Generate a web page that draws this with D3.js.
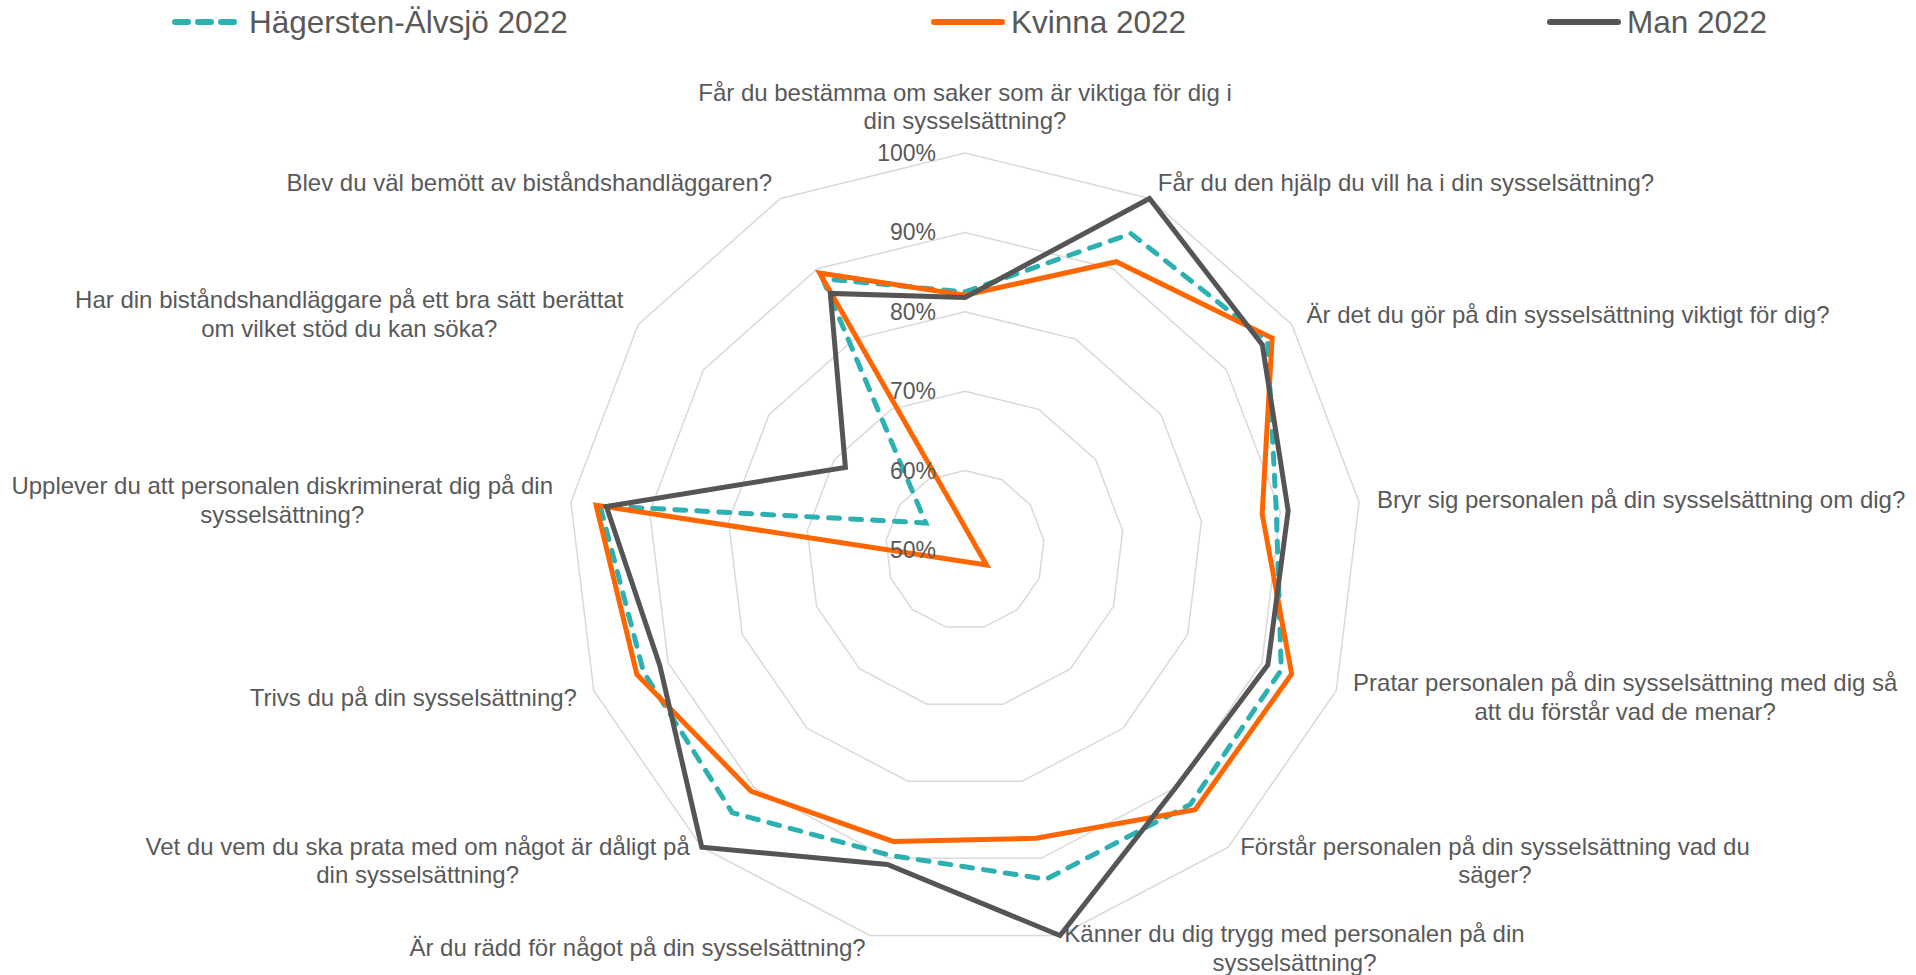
<!DOCTYPE html>
<html>
<head>
<meta charset="utf-8">
<script src="https://cdn.jsdelivr.net/npm/d3@7"></script>
<style>
  html, body { margin: 0; padding: 0; background: #ffffff; }
  svg text { font-family: "Liberation Sans", Arial, sans-serif; fill: #595959; }
</style>
</head>
<body>
<svg id="chart" width="1916" height="975"></svg>
<script>
// ---------- DATA ----------
const categories = [
  "Får du bestämma om saker som är viktiga för dig i\ndin sysselsättning?",
  "Får du den hjälp du vill ha i din sysselsättning?",
  "Är det du gör på din sysselsättning viktigt för dig?",
  "Bryr sig personalen på din sysselsättning om dig?",
  "Pratar personalen på din sysselsättning med dig så\natt du förstår vad de menar?",
  "Förstår personalen på din sysselsättning vad du\nsäger?",
  "Känner du dig trygg med personalen på din\nsysselsättning?",
  "Är du rädd för något på din sysselsättning?",
  "Vet du vem du ska prata med om något är dåligt på\ndin sysselsättning?",
  "Trivs du på din sysselsättning?",
  "Upplever du att personalen diskriminerat dig på din\nsysselsättning?",
  "Har din biståndshandläggare på ett bra sätt berättat\nom vilket stöd du kan söka?",
  "Blev du väl bemött av biståndshandläggaren?"
];
const seriesNames = ["Hägersten-Älvsjö 2022", "Kvinna 2022", "Man 2022"];
const hagerstenValues = [0.825, 0.950, 0.963, 0.895, 0.926, 0.928, 0.927, 0.896, 0.942, 0.933, 0.963, 0.560, 0.886];
const kvinnaValues    = [0.821, 0.910, 0.970, 0.877, 0.940, 0.937, 0.874, 0.878, 0.906, 0.942, 0.968, 0.467, 0.894];
const manValues       = [0.818, 1.000, 0.955, 0.910, 0.908, 0.900, 1.000, 0.908, 1.000, 0.911, 0.955, 0.683, 0.865];
const tickValues = [0.5, 0.6, 0.7, 0.8, 0.9, 1.0];
const tickLabels = ["50%", "60%", "70%", "80%", "90%", "100%"];

// ---------- LAYOUT / STYLE ----------
const W = 1916, H = 975;
const cx = 965, cy = 550, R = 397;
const colors = ["#2DB0B1", "#FF6600", "#555555"];
const dashes = ["11,11", null, null];
const lineW = 5;
const labelFont = 24, labelLH = 28.5, labelPad = 18;
const tickFont = 23;
const legendFont = 31.5, legendY = 22;
const legendX = [172, 934, 1550], legendMarker = 68, legendGap = 9;

const svg = d3.select("#chart");
const g = svg.append("g").attr("transform", `translate(${cx},${cy})`);

const n = categories.length;
const angle = d3.scaleLinear().domain([0, n]).range([0, 2 * Math.PI]);
const r = d3.scaleLinear().domain([0.5, 1]).range([0, R]);

// grid rings
const ring = d3.lineRadial()
  .angle((d, i) => angle(i))
  .radius(d => r(d))
  .curve(d3.curveLinearClosed);

g.append("g").selectAll("path")
  .data(tickValues.filter(t => t > 0.5))
  .join("path")
  .attr("d", t => ring(d3.range(n).map(() => t)))
  .attr("fill", "none")
  .attr("stroke", "#D9D9D9")
  .attr("stroke-width", 1.5);

// series
const series = [hagerstenValues, kvinnaValues, manValues];
const line = d3.lineRadial()
  .angle((d, i) => angle(i))
  .radius(d => r(d))
  .curve(d3.curveLinearClosed);

g.append("g").selectAll("path")
  .data(series)
  .join("path")
  .attr("d", d => line(d))
  .attr("fill", "none")
  .attr("stroke", (d, i) => colors[i])
  .attr("stroke-width", lineW)
  .attr("stroke-linejoin", "miter")
  .attr("stroke-miterlimit", 10)
  .attr("stroke-linecap", (d, i) => dashes[i] ? "round" : "butt")
  .attr("stroke-dasharray", (d, i) => dashes[i]);

// tick labels
g.append("g").selectAll("text")
  .data(tickValues)
  .join("text")
  .attr("x", -29)
  .attr("y", t => -r(t))
  .attr("dy", "0.35em")
  .attr("text-anchor", "end")
  .attr("font-size", tickFont)
  .text((t, i) => tickLabels[i]);

// category labels
const lblG = svg.append("g");
categories.forEach((cat, i) => {
  const a = angle(i), s = Math.sin(a), c = Math.cos(a);
  const rr = R + labelPad;
  const ax = cx + rr * s, ay = cy - rr * c;
  const lines = cat.split("\n");
  const t = lblG.append("text").attr("font-size", labelFont).attr("text-anchor", "middle");
  const spans = lines.map(l => t.append("tspan").text(l));
  const widths = spans.map(sp => sp.node().getComputedTextLength());
  const bw = d3.max(widths);
  const bh = lines.length * labelLH;
  let mx;
  if (s > 0.05) mx = ax + bw / 2;
  else if (s < -0.05) mx = ax - bw / 2;
  else mx = ax;
  let top;
  if (c > 0.95) top = ay - bh;
  else if (c < -0.9) top = ay - bh / 2 - 5;
  else top = ay - bh / 2;
  spans.forEach((sp, k) => {
    sp.attr("x", mx).attr("y", top + labelLH * (k + 0.5)).attr("dy", "0.35em");
  });
});

// legend
const leg = svg.append("g");
seriesNames.forEach((name, i) => {
  const x0 = legendX[i];
  leg.append("line")
    .attr("x1", x0 + (dashes[i] ? 3 : 0)).attr("x2", x0 + legendMarker - (dashes[i] ? 3 : 0))
    .attr("y1", legendY).attr("y2", legendY)
    .attr("stroke", colors[i])
    .attr("stroke-width", 6)
    .attr("stroke-linecap", "round")
    .attr("stroke-dasharray", dashes[i] ? "13,10" : null);
  leg.append("text")
    .attr("x", x0 + legendMarker + legendGap)
    .attr("y", legendY)
    .attr("dy", "0.35em")
    .attr("font-size", legendFont)
    .text(name);
});
</script>
</body>
</html>
